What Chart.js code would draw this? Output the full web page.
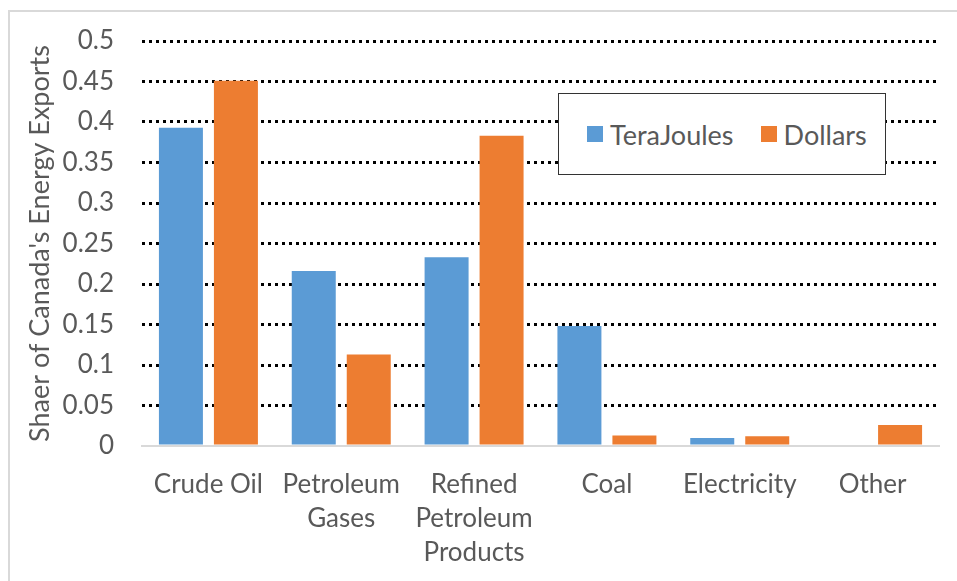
<!DOCTYPE html>
<html>
<head>
<meta charset="utf-8">
<script src="https://cdn.jsdelivr.net/npm/chart.js@4.4.1/dist/chart.umd.min.js"></script>
<style>
  html, body { margin: 0; padding: 0; background: #fff; }
  body { width: 957px; height: 581px; position: relative; overflow: hidden; font-family: Lato, sans-serif; }
  .frame { position: absolute; left: 8px; top: 10px; width: 980px; height: 600px; border: 2px solid #d9d9d9; box-sizing: border-box; }
  .chart-wrap { position: absolute; left: 0; top: 0; width: 957px; height: 581px; }
  .legend-box { position: absolute; left: 558px; top: 93px; width: 328px; height: 82px; box-sizing: border-box;
    border: 1px solid #333; background: #fff; display: flex; align-items: center; padding-left: 28px; }
  .legend-item { display: flex; align-items: center; margin-right: 27px; }
  .legend-dot { width: 16px; height: 16px; margin-right: 7px; }
  .legend-label { font-size: 27px; color: #595959; }
</style>
</head>
<body>
<div class="frame"></div>
<div class="chart-wrap"><canvas id="energyChart" width="957" height="581"></canvas></div>
<div class="legend-box" id="energyLegend"></div>
<script>
// ==================== DATA ====================
const categories = ['Crude Oil', ['Petroleum', 'Gases'], ['Refined', 'Petroleum', 'Products'], 'Coal', 'Electricity', 'Other'];
const teraJoules = [0.393, 0.216, 0.233, 0.148, 0.010, 0];
const dollars = [0.451, 0.113, 0.383, 0.013, 0.012, 0.026];
const yTicks = [0, 0.05, 0.1, 0.15, 0.2, 0.25, 0.3, 0.35, 0.4, 0.45, 0.5];

const TEXT = '#595959';
const BLUE = '#5b9bd5';
const ORANGE = '#ed7d31';

const ctx = document.getElementById('energyChart').getContext('2d');
window.energyChart = new Chart(ctx, {
    type: 'bar',
    data: {
        labels: categories,
        datasets: [
            { label: 'TeraJoules', data: teraJoules, backgroundColor: BLUE },
            { label: 'Dollars', data: dollars, backgroundColor: ORANGE }
        ]
    },
    options: {
        responsive: false,
        animation: false,
        categoryPercentage: 0.828,
        barPercentage: 0.8,
        layout: { padding: { left: 0, top: 41, right: 18, bottom: 0 } },
        plugins: { legend: { display: false }, tooltip: { enabled: false } },
        scales: {
            x: {
                grid: { display: false, drawTicks: false },
                border: { display: true, color: '#d9d9d9', width: 2 },
                ticks: {
                    color: TEXT, padding: 21, maxRotation: 0, autoSkip: false,
                    font: { family: 'Lato', size: 26, lineHeight: 1.32 }
                },
                afterFit: (scale) => { scale.height = 581 - 446; }
            },
            y: {
                min: 0, max: 0.5,
                afterBuildTicks: (scale) => { scale.ticks = yTicks.map(v => ({ value: v })); },
                grid: {
                    drawTicks: false, lineWidth: 3,
                    color: (c) => c.tick && c.tick.value === 0 ? 'rgba(0,0,0,0)' : '#000'
                },
                border: { display: false, dash: [3, 4] },
                ticks: {
                    color: TEXT, padding: 28,
                    font: { family: 'Lato', size: 26 },
                    callback: (v) => String(+Number(v).toFixed(2))
                },
                title: {
                    display: true, text: "Shaer of Canada's Energy Exports", color: TEXT,
                    font: { family: 'Lato', size: 27 }, padding: { top: 24, bottom: 0 }
                },
                // tick padding would otherwise push the plot top down
                afterFit: (scale) => { scale.width = 142; scale.paddingTop = 0; scale.paddingBottom = 0; }
            }
        }
    }
});

// legend built from the datasets
const legendEl = document.getElementById('energyLegend');
window.energyChart.data.datasets.forEach(ds => {
    const item = document.createElement('div');
    item.className = 'legend-item';
    item.innerHTML = `<div class="legend-dot" style="background:${ds.backgroundColor}"></div><span class="legend-label">${ds.label}</span>`;
    legendEl.appendChild(item);
});
</script>
</body>
</html>
